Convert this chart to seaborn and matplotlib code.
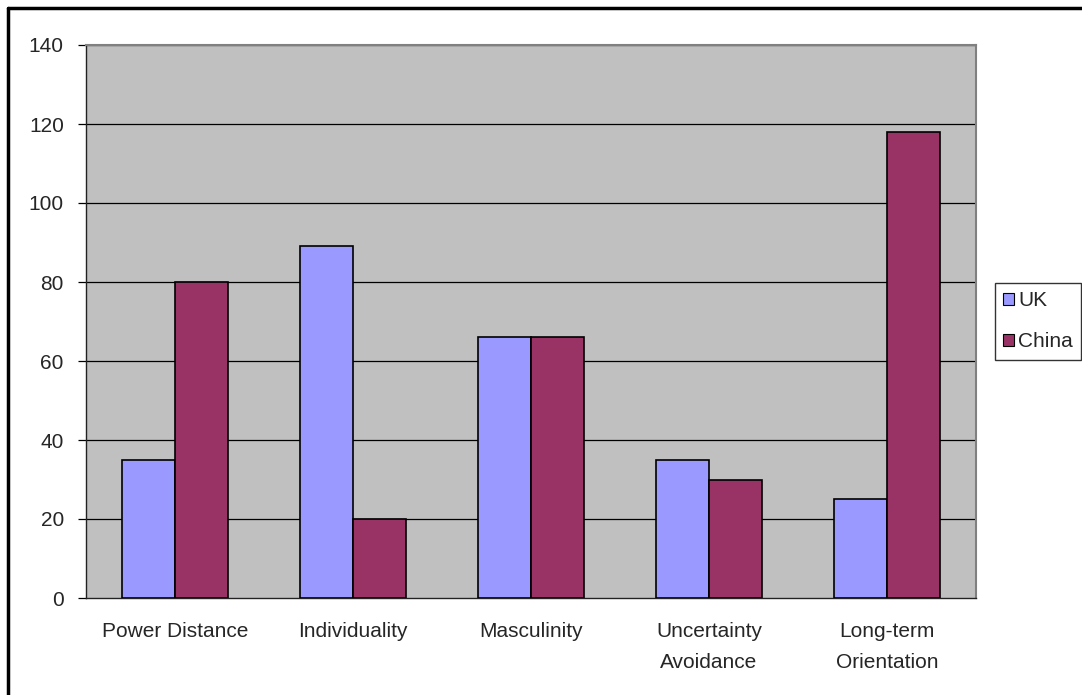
import matplotlib
matplotlib.use("Agg")
import matplotlib.pyplot as plt
from matplotlib.lines import Line2D
import seaborn as sns
import pandas as pd

categories = ["Power Distance", "Individuality", "Masculinity",
              "Uncertainty\nAvoidance", "Long-term\nOrientation"]
uk_values = [35, 89, 66, 35, 25]
china_values = [80, 20, 66, 30, 118]
series_names = ["UK", "China"]
series_colors = ["#9999FF", "#993366"]
y_ticks = [0, 20, 40, 60, 80, 100, 120, 140]

df = pd.DataFrame({
    "dimension": categories * 2,
    "score": uk_values + china_values,
    "country": [series_names[0]] * len(categories) + [series_names[1]] * len(categories),
})

sns.set_theme(style="white")
plt.rcParams["font.family"] = ["Liberation Sans", "DejaVu Sans"]

FS = 15
W, H = 1082, 695
fig = plt.figure(figsize=(W / 100, H / 100), dpi=100)
ax = fig.add_axes([86 / W, 1 - 598 / H, (976 - 86) / W, (598 - 45) / H])
ax.set_facecolor("#C0C0C0")

sns.barplot(data=df, x="dimension", y="score", hue="country",
            palette=series_colors, order=categories, hue_order=series_names,
            width=0.59, edgecolor="black", linewidth=1.2, saturation=1,
            ax=ax, legend=False, zorder=3)

ax.set_ylim(0, 140)
ax.set_xlim(-0.5, len(categories) - 0.5)
ax.set_yticks(y_ticks)
ax.set_yticklabels([str(t) for t in y_ticks], fontsize=FS)
for t in y_ticks[1:]:
    ax.axhline(t, color="black", linewidth=0.9, zorder=1)

# Category labels centred on the groups, tick marks on the slot boundaries
ax.set_xticks(range(len(categories)))
ax.set_xticklabels(categories, fontsize=FS, linespacing=1.8)
ax.tick_params(axis="x", which="major", length=0, pad=17)
ax.set_xticks([i - 0.5 for i in range(len(categories) + 1)], minor=True)
ax.tick_params(axis="x", which="minor", length=6, width=0.9, color="#333333", direction="out")
ax.tick_params(axis="y", length=6, width=0.9, color="black", direction="out", pad=10, left=True)

ax.set_xlabel("")
ax.set_ylabel("")
for side in ["left", "bottom"]:
    ax.spines[side].set_color("#222222")
    ax.spines[side].set_linewidth(1.0)
for side in ["top", "right"]:
    ax.spines[side].set_color("#808080")
    ax.spines[side].set_linewidth(1.5)

handles = [plt.Rectangle((0, 0), 1, 1, facecolor=c, edgecolor="black", linewidth=0.8)
           for c in series_colors]
leg = fig.legend(handles, series_names, loc="upper left",
                 bbox_to_anchor=(995 / W, 1 - 283 / H), fontsize=FS,
                 frameon=True, fancybox=False, handlelength=0.5, handleheight=0.5,
                 handletextpad=0.2, borderpad=0.4, labelspacing=1.05, borderaxespad=0)
leg.get_frame().set_edgecolor("black")
leg.get_frame().set_linewidth(1.0)

# Chart frame along the top and left
fig.add_artist(Line2D([8 / W, 1.0], [1 - 8 / H, 1 - 8 / H], color="black", linewidth=2.5,
                      transform=fig.transFigure))
fig.add_artist(Line2D([8 / W, 8 / W], [0.0, 1 - 8 / H], color="black", linewidth=2.5,
                      transform=fig.transFigure))

fig.savefig("out.png", dpi=100)
